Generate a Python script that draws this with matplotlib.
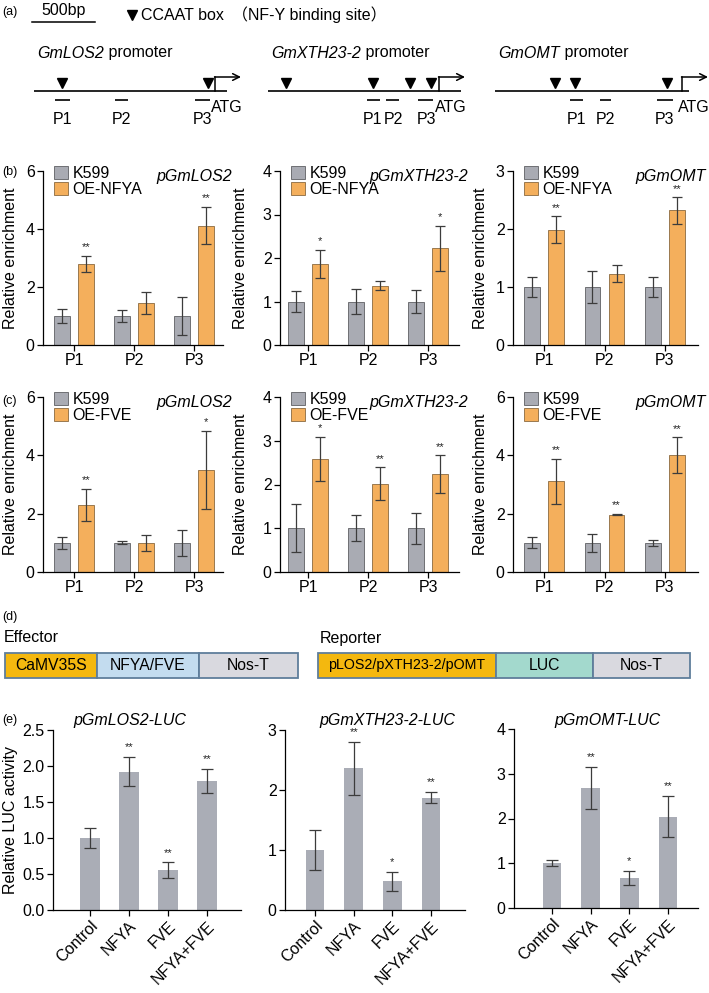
import matplotlib
matplotlib.use('Agg')
import matplotlib.pyplot as plt
from matplotlib.patches import Patch, Rectangle

plt.rcParams['font.family'] = ['Liberation Sans', 'DejaVu Sans', 'Noto Sans CJK SC']
plt.rcParams['font.size'] = 11.5
plt.rcParams['axes.linewidth'] = 0.9
plt.rcParams['xtick.major.width'] = 0.9
plt.rcParams['ytick.major.width'] = 0.9
plt.rcParams['xtick.major.size'] = 4
plt.rcParams['ytick.major.size'] = 4

# ---------------- data ----------------
groups = ['P1', 'P2', 'P3']

# (b) ChIP: K599 vs OE-NFYA
b_los2_k599 = [1.0, 1.0, 1.0]
b_los2_k599_err = [0.23, 0.22, 0.65]
b_los2_oe = [2.80, 1.45, 4.12]
b_los2_oe_err = [0.28, 0.38, 0.65]
b_los2_sig = ['**', '', '**']

b_xth_k599 = [1.0, 1.0, 1.0]
b_xth_k599_err = [0.24, 0.28, 0.26]
b_xth_oe = [1.86, 1.36, 2.22]
b_xth_oe_err = [0.33, 0.10, 0.52]
b_xth_sig = ['*', '', '*']

b_omt_k599 = [1.0, 1.0, 1.0]
b_omt_k599_err = [0.17, 0.27, 0.17]
b_omt_oe = [1.99, 1.23, 2.32]
b_omt_oe_err = [0.23, 0.15, 0.23]
b_omt_sig = ['**', '', '**']

# (c) ChIP: K599 vs OE-FVE
c_los2_k599 = [1.0, 1.0, 1.0]
c_los2_k599_err = [0.20, 0.05, 0.45]
c_los2_oe = [2.30, 1.00, 3.50]
c_los2_oe_err = [0.55, 0.28, 1.35]
c_los2_sig = ['**', '', '*']

c_xth_k599 = [1.0, 1.0, 1.0]
c_xth_k599_err = [0.55, 0.30, 0.35]
c_xth_oe = [2.59, 2.02, 2.24]
c_xth_oe_err = [0.50, 0.37, 0.43]
c_xth_sig = ['*', '**', '**']

c_omt_k599 = [1.0, 1.0, 1.0]
c_omt_k599_err = [0.19, 0.30, 0.11]
c_omt_oe = [3.11, 1.97, 4.00]
c_omt_oe_err = [0.78, 0.03, 0.62]
c_omt_sig = ['**', '**', '**']

# (e) LUC activity
e_categories = ['Control', 'NFYA', 'FVE', 'NFYA+FVE']
e_los2 = [1.00, 1.92, 0.55, 1.79]
e_los2_err = [0.14, 0.20, 0.11, 0.17]
e_los2_sig = ['', '**', '**', '**']
e_xth = [1.00, 2.36, 0.48, 1.87]
e_xth_err = [0.34, 0.44, 0.16, 0.09]
e_xth_sig = ['', '**', '*', '**']
e_omt = [1.00, 2.69, 0.67, 2.04]
e_omt_err = [0.07, 0.47, 0.16, 0.46]
e_omt_sig = ['', '**', '*', '**']

# (a) schematic (positions along each drawn promoter, in pixels)
promoter_names = ['GmLOS2', 'GmXTH23-2', 'GmOMT']
promoter_starts = [34, 268, 495]
promoter_ends = [227, 461, 689]
promoter_tss = [215, 439, 682]
ccaat_sites = [[62, 208], [286, 373, 410, 431], [555, 575, 667]]
primer_spans = [[(55, 70), (115, 128), (195, 210)],
                [(367, 380), (386, 399), (418, 433)],
                [(570, 583), (600, 611), (657, 673)]]
primer_label_x = [[62, 121, 202], [373, 393, 426], [576, 605, 665]]

# (d) constructs
effector_parts = ['CaMV35S', 'NFYA/FVE', 'Nos-T']
effector_edges = [5, 97, 199, 298]
reporter_parts = ['pLOS2/pXTH23-2/pOMT', 'LUC', 'Nos-T']
reporter_edges = [318, 496, 593, 690]

# ---------------- style ----------------
W, H = 709, 993
GRAY = '#A9ABB3'
GRAY_EDGE = '#5f5f63'
ORANGE = '#F4AF5C'
ORANGE_EDGE = '#8a6a40'
E_GRAY = '#AAADB6'
ERR = '#3c3c3c'
PART_COLORS = {'CaMV35S': '#F4B80F', 'NFYA/FVE': '#C3DCEF', 'Nos-T': '#D9D9DF',
               'pLOS2/pXTH23-2/pOMT': '#F4B80F', 'LUC': '#A3D9CD'}

fig = plt.figure(figsize=(W / 100, H / 100), dpi=100)


def rect(x0, y0, x1, y1):
    return [x0 / W, 1 - y1 / H, (x1 - x0) / W, (y1 - y0) / H]


def style_axes(ax):
    for s in ['top', 'right']:
        ax.spines[s].set_visible(False)
    ax.tick_params(direction='out', labelsize=11.5, pad=2)


def chip_panel(box, k, kerr, oe, oeerr, sig, yticks, oe_label, ticks_px, ylab_px):
    x0, y0, x1, y1 = box
    ax = fig.add_axes(rect(x0, y0, x1, y1))
    sp = (ticks_px[2] - ticks_px[0]) / 2
    ax.set_xlim((x0 - ticks_px[0]) / sp, (x1 - ticks_px[0]) / sp)
    xs = list(range(len(groups)))
    w = 0.26
    d = 0.2
    ax.bar([x - d for x in xs], k, w, color=GRAY, edgecolor=GRAY_EDGE, linewidth=0.6)
    ax.bar([x + d for x in xs], oe, w, color=ORANGE, edgecolor=ORANGE_EDGE, linewidth=0.6)
    ax.errorbar([x - d for x in xs], k, yerr=kerr, fmt='none', ecolor=ERR, elinewidth=0.9,
                capsize=3.6, capthick=0.9)
    ax.errorbar([x + d for x in xs], oe, yerr=oeerr, fmt='none', ecolor=ERR, elinewidth=0.9,
                capsize=3.6, capthick=0.9)
    for x, v, e, s in zip(xs, oe, oeerr, sig):
        if s:
            ax.annotate(s, (x + d, v + e), xytext=(0, 2.5), textcoords='offset points',
                        ha='center', va='bottom', fontsize=8, color='#222222')
    ax.set_ylim(yticks[0], yticks[-1])
    ax.set_yticks(yticks)
    ax.set_xticks(xs)
    ax.set_xticklabels(groups)
    style_axes(ax)
    ax.set_ylabel('Relative enrichment', fontsize=11.5)
    # label anchor is its right edge (rotated text, va='bottom')
    ax.yaxis.set_label_coords((ylab_px + 8 - x0) / (x1 - x0), 0.5)
    handles = [Patch(facecolor=GRAY, edgecolor=GRAY_EDGE, linewidth=0.6),
               Patch(facecolor=ORANGE, edgecolor=ORANGE_EDGE, linewidth=0.6)]
    ax.legend(handles, ['K599', oe_label], loc='upper left',
              bbox_to_anchor=(11 / (x1 - x0), 1.03), frameon=False, fontsize=11.5,
              handlelength=0.85, handleheight=0.85, handletextpad=0.3,
              labelspacing=0.08, borderpad=0, borderaxespad=0)
    return ax


def luc_panel(box, vals, errs, sig, yticks, cat_px, ylabel, fmt):
    x0, y0, x1, y1 = box
    ax = fig.add_axes(rect(x0, y0, x1, y1))
    sp = (cat_px[-1] - cat_px[0]) / 3
    ax.set_xlim((x0 - cat_px[0]) / sp, (x1 - cat_px[0]) / sp)
    xs = list(range(len(e_categories)))
    ax.bar(xs, vals, 0.49, color=E_GRAY, linewidth=0)
    ax.errorbar(xs, vals, yerr=errs, fmt='none', ecolor=ERR, elinewidth=0.9,
                capsize=4.2, capthick=0.9)
    for x, v, e, s in zip(xs, vals, errs, sig):
        if s:
            ax.annotate(s, (x, v + e), xytext=(0, 3.5), textcoords='offset points',
                        ha='center', va='bottom', fontsize=8, color='#222222')
    ax.set_ylim(yticks[0], yticks[-1])
    ax.set_yticks(yticks)
    ax.set_yticklabels([fmt.format(t) for t in yticks])
    ax.set_xticks(xs)
    ax.set_xticklabels(e_categories, rotation=45, ha='right', rotation_mode='anchor')
    style_axes(ax)
    if ylabel:
        ax.set_ylabel(ylabel, fontsize=11.5)
        ax.yaxis.set_label_coords((18 - x0) / (x1 - x0), 0.5)
    return ax


# (b)
chip_panel((43, 171, 223, 345), b_los2_k599, b_los2_k599_err, b_los2_oe, b_los2_oe_err,
           b_los2_sig, [0, 2, 4, 6], 'OE-NFYA', (74, 134, 194), 10)
chip_panel((280, 171, 459, 345), b_xth_k599, b_xth_k599_err, b_xth_oe, b_xth_oe_err,
           b_xth_sig, [0, 1, 2, 3, 4], 'OE-NFYA', (308, 368, 428), 240)
chip_panel((513, 171, 698, 345), b_omt_k599, b_omt_k599_err, b_omt_oe, b_omt_oe_err,
           b_omt_sig, [0, 1, 2, 3], 'OE-NFYA', (544, 604, 665), 480)
# (c)
chip_panel((43, 397, 223, 572), c_los2_k599, c_los2_k599_err, c_los2_oe, c_los2_oe_err,
           c_los2_sig, [0, 2, 4, 6], 'OE-FVE', (74, 134, 194), 10)
chip_panel((280, 397, 459, 572), c_xth_k599, c_xth_k599_err, c_xth_oe, c_xth_oe_err,
           c_xth_sig, [0, 1, 2, 3, 4], 'OE-FVE', (308, 368, 428), 240)
chip_panel((513, 397, 698, 572), c_omt_k599, c_omt_k599_err, c_omt_oe, c_omt_oe_err,
           c_omt_sig, [0, 2, 4, 6], 'OE-FVE', (544, 604, 665), 480)
# (e)
luc_panel((53, 730, 241, 910), e_los2, e_los2_err, e_los2_sig,
          [0, 0.5, 1.0, 1.5, 2.0, 2.5], (90, 129, 168, 207), 'Relative LUC activity', '{:.1f}')
luc_panel((285, 730, 465, 910), e_xth, e_xth_err, e_xth_sig,
          [0, 1, 2, 3], (315, 354, 392, 431), None, '{:g}')
luc_panel((514, 729, 698, 908), e_omt, e_omt_err, e_omt_sig,
          [0, 1, 2, 3, 4], (552, 591, 629, 668), None, '{:g}')

# ---------------- overlay (schematics and free text) ----------------
ov = fig.add_axes([0, 0, 1, 1])
ov.set_xlim(0, W)
ov.set_ylim(H, 0)
ov.axis('off')

# panel letters
for lab, x, y in [('(a)', 2, 12), ('(b)', 2, 172), ('(c)', 2, 401), ('(d)', 2, 617), ('(e)', 2, 720)]:
    ov.text(x, y, lab, fontsize=9, ha='left', va='center')

# (a) header
ov.plot([32, 95], [22, 22], color='black', lw=1.1)
ov.text(64, 10, '500bp', ha='center', va='center', fontsize=11.5)
ov.plot([132], [14.5], marker='v', ms=6.5, color='black', ls='none')
ov.text(141, 15, 'CCAAT box', ha='left', va='center', fontsize=11.5)
ov.text(232, 15, '（NF-Y binding site）', ha='left', va='center', fontsize=11.5,
        family=['Liberation Sans', 'Noto Sans CJK SC'])

# (a) promoters
LINE_Y = 91
for name, xs0, xe, tss, sites, spans, labx in zip(promoter_names, promoter_starts, promoter_ends,
                                                    promoter_tss, ccaat_sites, primer_spans,
                                                    primer_label_x):
    t = ov.text(xs0 + 3, 53, name, style='italic', ha='left', va='center', fontsize=11.5)
    ov.annotate(' promoter', xy=(1, 0), xycoords=t, ha='left', va='bottom', fontsize=11.5)
    ov.plot([xs0, xe], [LINE_Y, LINE_Y], color='black', lw=1.2, solid_capstyle='butt')
    ov.plot(sites, [82.5] * len(sites), marker='v', ms=6.5, color='black', ls='none')
    ov.plot([tss, tss], [LINE_Y, 77], color='black', lw=1.1)
    ov.annotate('', xy=(tss + 26, 77), xytext=(tss - 0.5, 77),
                arrowprops=dict(arrowstyle='->', lw=1.1, color='black', shrinkA=0, shrinkB=0,
                                mutation_scale=12))
    for (a, b) in spans:
        ov.plot([a, b], [100, 100], color='black', lw=1.2, solid_capstyle='butt')
    for g, lx in zip(groups, labx):
        ov.text(lx, 120, g, ha='center', va='center', fontsize=11.5)
    ov.text(tss - 4, 108, 'ATG', ha='left', va='center', fontsize=11.5)

# (b)/(c) gene titles
for y in (176, 402):
    ov.text(232, y, 'pGmLOS2', style='italic', ha='right', va='center', fontsize=11.5)
    ov.text(468, y, 'pGmXTH23-2', style='italic', ha='right', va='center', fontsize=11.5)
    ov.text(706, y, 'pGmOMT', style='italic', ha='right', va='center', fontsize=11.5)

# (d) constructs
ov.text(4, 638, 'Effector', ha='left', va='center', fontsize=11.5)
ov.text(320, 638, 'Reporter', ha='left', va='center', fontsize=11.5)
for parts, edges in [(effector_parts, effector_edges), (reporter_parts, reporter_edges)]:
    for i, p in enumerate(parts):
        x0, x1 = edges[i], edges[i + 1]
        ov.add_patch(Rectangle((x0, 653), x1 - x0, 25, facecolor=PART_COLORS[p],
                               edgecolor='#5f7e9b', lw=1.3))
        fs = 10.3 if len(p) > 12 else 11.3
        ov.text((x0 + x1) / 2, 665.5, p, ha='center', va='center', fontsize=fs)

# (e) titles
ov.text(130, 721, 'pGmLOS2-LUC', style='italic', ha='center', va='center', fontsize=11.5)
ov.text(387, 721, 'pGmXTH23-2-LUC', style='italic', ha='center', va='center', fontsize=11.5)
ov.text(607, 721, 'pGmOMT-LUC', style='italic', ha='center', va='center', fontsize=11.5)

fig.savefig('out.png', dpi=100)
